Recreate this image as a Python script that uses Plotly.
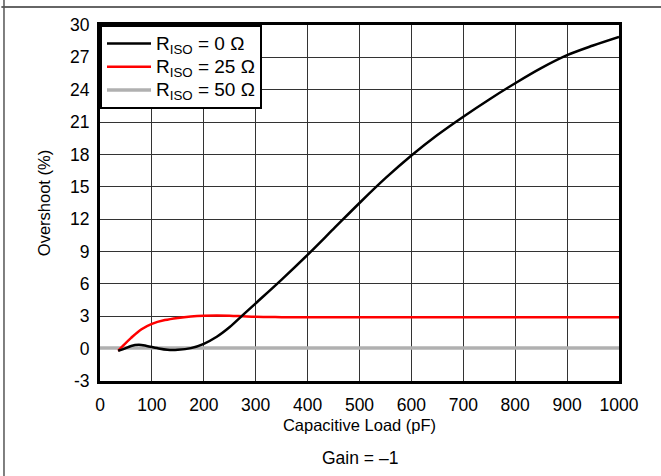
import plotly.graph_objects as go

cap_black = [35, 45, 60, 75, 90, 110, 130, 150, 175, 200, 225, 250, 275, 300, 350, 400, 450, 500, 550, 600, 650, 700, 750, 800, 850, 900, 950, 1000]
ov_black = [-0.2, -0.05, 0.25, 0.35, 0.25, 0.05, -0.1, -0.1, 0.05, 0.45, 1.1, 2.0, 3.1, 4.2, 6.4, 8.7, 11.1, 13.5, 15.8, 17.9, 19.8, 21.5, 23.1, 24.6, 26.0, 27.2, 28.1, 28.9]

cap_red = [35, 45, 60, 80, 100, 125, 150, 175, 200, 225, 250, 275, 300, 350, 400, 500, 600, 700, 800, 900, 1000]
ov_red = [-0.2, 0.3, 1.0, 1.8, 2.3, 2.65, 2.85, 2.98, 3.05, 3.07, 3.05, 3.0, 2.95, 2.92, 2.9, 2.9, 2.9, 2.9, 2.9, 2.9, 2.9]

cap_gray = [0, 1000]
ov_gray = [0.05, 0.05]

x_ticks = list(range(0, 1001, 100))
y_ticks = list(range(-3, 31, 3))
y_tick_labels = [str(v) for v in y_ticks]

names = ["R<sub>ISO</sub> = 0 Ω", "R<sub>ISO</sub> = 25 Ω", "R<sub>ISO</sub> = 50 Ω"]


def big(t):
    return '<span style="font-size:19px">' + t + '</span>'


fig = go.Figure()
fig.add_trace(go.Scatter(x=cap_gray, y=ov_gray, mode="lines", line=dict(color="#b0b0b0", width=3.5),
                         name=big(names[2]), legendrank=3))
fig.add_trace(go.Scatter(x=cap_red, y=ov_red, mode="lines", line=dict(color="#ff0000", width=2.5, shape="spline"),
                         name=big(names[1]), legendrank=2))
fig.add_trace(go.Scatter(x=cap_black, y=ov_black, mode="lines", line=dict(color="#000000", width=2.5, shape="spline"),
                         name=big(names[0]), legendrank=1))

fam = "Liberation Sans, Arial, sans-serif"
font = dict(family=fam, size=17, color="#000")

fig.update_layout(
    width=661, height=476,
    margin=dict(l=100, r=42, t=25, b=95),
    paper_bgcolor="white", plot_bgcolor="white",
    font=font,
    showlegend=True,
    legend=dict(x=0, y=1, xanchor="left", yanchor="top", bgcolor="white",
                bordercolor="black", borderwidth=2, font=dict(size=15.5, family=fam, color="#000"),
                tracegroupgap=0, itemwidth=44),
    xaxis=dict(range=[0, 1000], tickvals=x_ticks, ticks="outside", ticklen=6, tickcolor="rgba(0,0,0,0)",
               showgrid=True, gridcolor="#333", gridwidth=1,
               zeroline=False, showline=True, linecolor="black", linewidth=3, mirror=True,
               title=dict(text="Capacitive Load (pF)", standoff=6, font=dict(size=16.5)), tickfont=dict(size=17.5)),
    yaxis=dict(range=[-3, 30], tickvals=y_ticks, ticktext=y_tick_labels, ticks="outside", ticklen=4,
               tickcolor="rgba(0,0,0,0)", showgrid=True,
               gridcolor="#333", gridwidth=1,
               zeroline=False, showline=True, linecolor="black", linewidth=3, mirror=True,
               title=dict(text="Overshoot (%)", standoff=16, font=dict(size=16.5)), tickfont=dict(size=17.5)),
    annotations=[dict(text="Gain = –1", x=0.5, y=-0.216, xref="paper", yref="paper", showarrow=False,
                      xanchor="center", yanchor="middle", font=dict(size=17.5))],
    shapes=[
        dict(type="line", xref="paper", yref="paper", x0=-0.19, x1=1.1, y0=1.0506, y1=1.0506,
             line=dict(color="#333", width=1.5)),
        dict(type="line", xref="paper", yref="paper", x0=-0.185, x1=-0.185, y0=-0.3, y1=1.1,
             line=dict(color="#555", width=1.5)),
    ],
)

fig.write_html("out.html", config={"displayModeBar": False},
               post_script="document.body.style.margin='0';")
